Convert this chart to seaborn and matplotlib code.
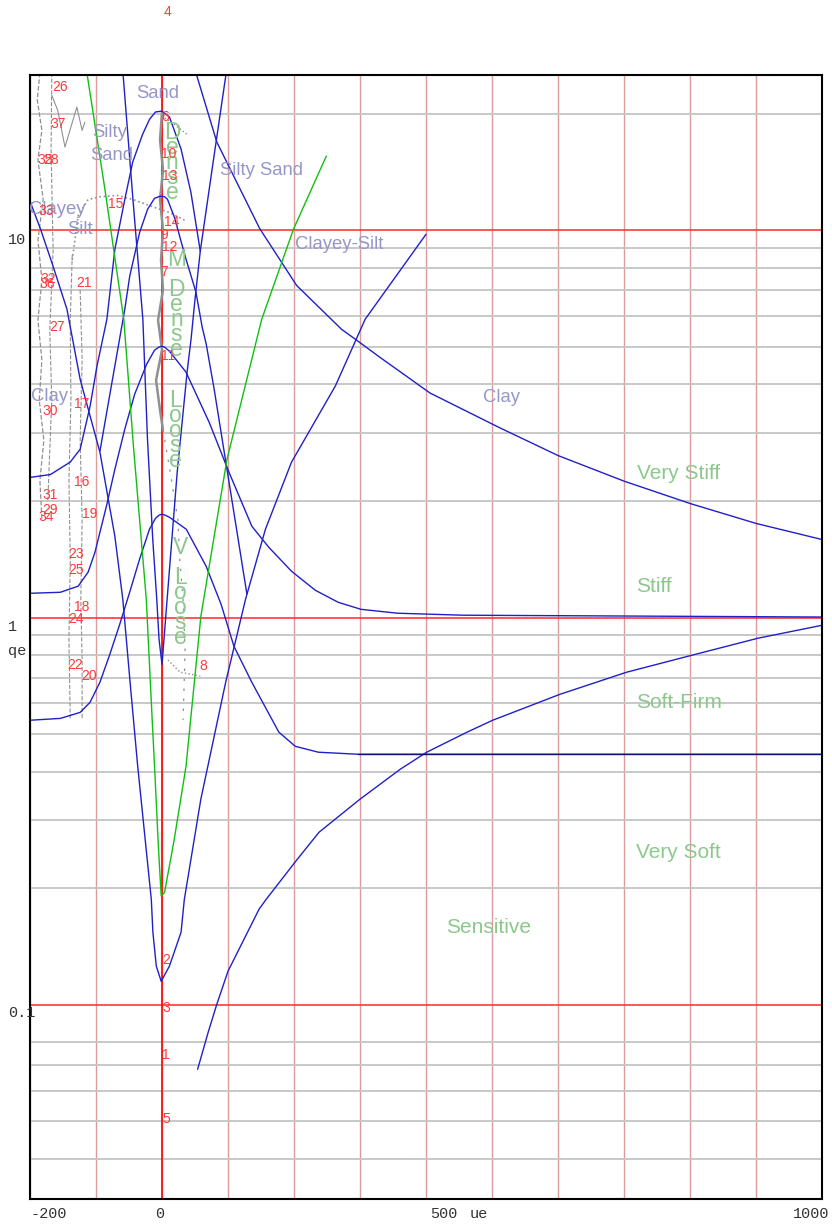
import seaborn as sns
import matplotlib.pyplot as plt
from matplotlib import transforms
from matplotlib.ticker import FixedLocator, NullFormatter

# ---- boundary curves: x = ue, y = qe ----
clay_x = [52, 83, 148, 204, 272, 295, 330, 406, 510, 600, 700, 800, 900, 1000]
clay_q = [25.3, 16.9, 10.1, 7.2, 5.55, 5.2, 4.7, 3.8, 3.1, 2.62, 2.25, 1.97, 1.75, 1.59]

nv_x = [-59, -44, -29, -22, -14, -8, -4.5, 0, 3, 11, 23, 38, 44, 50, 58, 77, 97]
nv_q = [25.3, 12.0, 5.89, 2.89, 1.59, 1.12, 0.879, 0.757, 0.879, 1.31, 2.37, 4.30, 5.23, 6.63, 8.83, 14.8, 25.3]

b1_x = [-200, -169, -139, -124, -109, -98.5, -83.5, -71.4, -56.4, -44.4, -29.3, -18.8, -9.8, 0, 11.3, 28.9, 43.9, 58]
b1_q = [2.30, 2.34, 2.52, 2.72, 3.51, 4.46, 5.89, 8.93, 12.0, 15.0, 17.7, 19.35, 20.2, 20.3, 19.6, 16.2, 12.5, 8.83]

b2_x = [-94, -79, -67, -56.4, -48.9, -33.8, -21.8, -11.3, -4, 0, 4, 8.3, 18.8, 36.4, 51.4, 60.9, 67, 79, 101.5, 116.5, 128.6]
b2_q = [2.69, 3.77, 4.93, 6.25, 7.61, 9.88, 11.33, 12.09, 12.22, 12.24, 12.2, 12.02, 10.80, 8.42, 6.92, 5.62, 5.08, 3.89, 2.24, 1.55, 1.15]

b3_x = [-200, -154, -127, -112, -101.5, -94, -83.5, -71.4, -56.4, -41.4, -23.3, -11.3, -4, 0, 4, 11.3, 36.4,
        71.4, 101.5, 136.1, 161.7, 196.2, 232.3, 266.9, 301.5, 357, 455, 1000]
b3_q = [1.155, 1.162, 1.205, 1.309, 1.475, 1.661, 1.961, 2.415, 3.064, 3.773, 4.508, 4.900, 5.0, 5.018, 4.99, 4.871, 4.30,
        3.194, 2.372, 1.721, 1.519, 1.317, 1.176, 1.095, 1.050, 1.026, 1.014, 1.003]

b4_x = [-200, -154, -124, -109, -94, -79, -64, -49, -34, -19, -9.8, -4, 0, 4, 11.3, 36.8, 66.9, 89.5, 109, 136,
        177, 202, 237, 297, 1000]
b4_q = [0.543, 0.549, 0.569, 0.604, 0.681, 0.804, 0.961, 1.162, 1.414, 1.690, 1.804, 1.84, 1.848, 1.84, 1.815, 1.690,
        1.356, 1.082, 0.843, 0.681, 0.506, 0.465, 0.449, 0.4436, 0.4436]

wv_x = [-200, -184, -165, -144, -124, -94, -71.4, -59.4, -47.4, -36.8, -16.2, -13.8, -8.7, -1.2, 11.3,
        28.9, 33.8, 58.9, 96.5, 126.6, 156.7, 196.2, 262.7, 307.8, 400]
wv_q = [11.88, 10.06, 8.07, 6.25, 4.12, 2.67, 1.62, 1.115, 0.653, 0.413, 0.187, 0.154, 0.126, 0.115, 0.126,
        0.154, 0.187, 0.340, 0.681, 1.115, 1.690, 2.518, 3.963, 5.89, 9.76]

gv_x = [-113.5, -86.5, -57.9, -42.9, -23.8, -14.9, -11.3, -5.3, -1.2, 3.8, 18.3, 36.4, 58.9, 98.5, 151.1, 199.2, 248.9]
gv_q = [25.3, 12.76, 5.89, 2.72, 1.115, 0.546, 0.413, 0.253, 0.191, 0.195, 0.266, 0.413, 1.008, 2.563, 5.89, 10.06, 15.53]

sens_x = [54, 70, 83, 100, 147, 158, 205, 238, 300, 361, 401, 462, 501, 603, 704, 803, 903, 1000]
sens_q = [0.0682, 0.085, 0.1003, 0.1221, 0.1765, 0.1874, 0.2376, 0.2791, 0.3396, 0.4058, 0.449, 0.5057,
          0.543, 0.6336, 0.7225, 0.7993, 0.8843, 0.955]

# ---- measured traces (grey) ----
t1_x = [-185, -189, -182, -188, -180, -188, -182, -188, -182, -186, -179, -185, -182]
t1_q = [25.5, 21.7, 18.1, 15.2, 12.0, 9.44, 7.44, 5.86, 4.62, 3.64, 2.87, 2.26, 1.79]
t2_x = [-167, -168, -165, -170, -167, -173]
t2_q = [25.5, 16.1, 8.89, 5.52, 3.64, 2.01]
t3_x = [-136, -139, -138, -141, -139, -141, -139]
t3_q = [8.63, 5.86, 3.64, 2.26, 1.41, 0.875, 0.544]
t4_x = [-124, -121, -124, -121, -123, -121, -121]
t4_q = [7.01, 4.62, 2.87, 1.79, 1.11, 0.777, 0.550]
t5_x = [-167, -158, -147, -129, -121, -117]
t5_q = [22.3, 20.4, 16.4, 20.8, 18.1, 19.0]
t6_x = [-136, -127, -112, -94, -68, -44, -14, 12, 35]
t6_q = [8.38, 10.9, 12.0, 12.2, 12.3, 12.0, 11.5, 11.1, 10.6]
t7_x = [0, -3, 1.5, -3, 1.5, -1.5, 1.5, -6, 0, -9, -3, 1.5]
t7_q = [20.2, 17.1, 14.3, 12.0, 10.0, 8.38, 7.01, 5.86, 4.91, 4.10, 3.43, 3.05]
t8_x = [1.5, 12, 24, 27, 32, 35, 32]
t8_q = [3.05, 2.40, 1.79, 1.41, 1.11, 0.824, 0.544]
t9_x = [9, 27, 58]
t9_q = [0.777, 0.723, 0.706]
t10_x = [4.5, 19.7, 39.4]
t10_q = [19.5, 18.7, 17.6]

# ---- point numbers ----
pt_ids = ['26', '37', '35', '28', '33', '15', '6', '10', '13', '14', '9', '12', '7', '11', '32', '36', '21',
          '27', '30', '17', '16', '31', '29', '34', '19', '23', '25', '18', '24', '22', '20', '8', '2', '3',
          '1', '5']
pt_x = [-155, -158, -177, -168, -175, -70, 4, 10, 12, 15, 3, 12, 3, 9, -173, -174, -118, -159, -170, -121,
        -121, -170, -170, -176, -109, -130, -130, -121, -130, -132, -110, 62, 6, 6, 6, 6]
pt_q = [23.4, 18.8, 15.2, 15.2, 11.2, 11.67, 19.6, 15.71, 13.79, 10.49, 9.71, 9.04, 7.79, 4.73, 7.47, 7.25,
        7.30, 5.62, 3.41, 3.55, 2.235, 2.07, 1.89, 1.815, 1.848, 1.457, 1.325, 1.063, 0.99, 0.753, 0.705,
        0.749, 0.1304, 0.098, 0.0741, 0.0507]

# ---- zone labels ----
soil_txt = ['Sand', 'Silty', 'Sand', 'Silty Sand', 'Clayey', 'Silt', 'Clayey-Silt', 'Clay', 'Clay']
soil_x = [-6, -80, -76, 150, -158, -124, 268, 515, -171]
soil_q = [22.5, 17.9, 15.6, 14.3, 11.34, 10.07, 9.16, 3.71, 3.73]

cons_txt = ['Very Stiff', 'Stiff', 'Soft-Firm', 'Very Soft', 'Sensitive']
cons_x = [782, 745, 783, 783, 495]
cons_q = [2.35, 1.20, 0.605, 0.248, 0.1588]

dens_txt = ['Dense', 'M Dense', 'Loose', 'V Loose']
dens_x = [15, 22, 20, 28]
dens_q = [17.93, 8.38, 3.64, 1.512]

# horizontal grid levels as drawn in the reference (no line at 0.09)
minor_q = [0.04, 0.05, 0.06, 0.07, 0.08, 0.2, 0.3, 0.4, 0.5, 0.6, 0.7, 0.8, 0.9,
           2, 3, 4, 5, 6, 7, 8, 9, 20]

BLUE = '#2020c8'
GREEN = '#10c010'
LAV = '#9696c8'
LGREEN = '#8cc88c'
RED = '#ff3a3a'
GREY = '#909090'


def main():
    sns.set_style("white")
    plt.rcParams['font.family'] = ['Liberation Sans', 'DejaVu Sans']

    fig = plt.figure(figsize=(8.32, 12.25), dpi=100)
    ax = fig.add_axes([30 / 832, 26.5 / 1225, 792 / 832, 1123.2 / 1225])
    ax.set_yscale('log')
    ax.set_xlim(-200, 1000)
    ax.set_ylim(10 ** -1.5, 10 ** 1.4)

    # grid
    ax.set_xticks(range(-200, 1001, 100))
    ax.set_yticks([0.1, 1, 10])
    ax.yaxis.set_minor_locator(FixedLocator(minor_q))
    ax.yaxis.set_minor_formatter(NullFormatter())
    ax.set_axisbelow(True)
    ax.grid(which='minor', axis='y', color='#c4c4c4', lw=1.3)
    ax.grid(which='major', axis='y', color=RED, lw=1.2)
    ax.grid(which='major', axis='x', color='#dc9c9c', lw=1.0)
    ax.tick_params(which='both', length=0, labelleft=False, labelbottom=False)
    ax.axvline(0, color='#ff0000', lw=1.2, zorder=1.5)
    for s in ax.spines.values():
        s.set_color('black')
        s.set_linewidth(1.5)

    # measured traces
    traces = [(t1_x, t1_q, '--', 0.9), (t2_x, t2_q, '--', 0.8), (t3_x, t3_q, '--', 0.8),
              (t4_x, t4_q, '--', 0.8), (t5_x, t5_q, '-', 0.8), (t6_x, t6_q, ':', 1.2),
              (t7_x, t7_q, '-', 1.8), (t8_x, t8_q, (0, (2, 6)), 0.9), (t9_x, t9_q, ':', 1.0),
              (t10_x, t10_q, ':', 1.0)]
    for tx, tq, ls, lw in traces:
        sns.lineplot(x=tx, y=tq, ax=ax, color=GREY, lw=lw, ls=ls, sort=False, estimator=None)

    # boundary curves
    for cx, cq in [(clay_x, clay_q), (nv_x, nv_q), (b1_x, b1_q), (b2_x, b2_q), (b3_x, b3_q),
                   (b4_x, b4_q), (wv_x, wv_q), (sens_x, sens_q)]:
        sns.lineplot(x=cx, y=cq, ax=ax, color=BLUE, lw=1.0, sort=False, estimator=None)
    sns.lineplot(x=b4_x[-2:], y=b4_q[-2:], ax=ax, color='#10107a', lw=1.0, sort=False, estimator=None)
    sns.lineplot(x=gv_x, y=gv_q, ax=ax, color=GREEN, lw=1.0, sort=False, estimator=None)

    # labels
    for t, x, q in zip(soil_txt, soil_x, soil_q):
        ax.text(x, q, t, color=LAV, fontsize=13.3, ha='center', va='center')
    for t, x, q in zip(cons_txt, cons_x, cons_q):
        ax.text(x, q, t, color=LGREEN, fontsize=15, ha='center', va='center')
    for word, x, q in zip(dens_txt, dens_x, dens_q):
        for i, ch in enumerate(word):
            tr = transforms.offset_copy(ax.transData, fig=fig, x=0, y=-15 * i, units='dots')
            ax.text(x, q, ch, color=LGREEN, fontsize=16.5, ha='center', va='center', transform=tr)
    for t, x, q in zip(pt_ids, pt_x, pt_q):
        ax.text(x, q, t, color=RED, fontsize=10, ha='center', va='center')
    fig.text(167 / 832, 1 - 12 / 1225, '4', color=RED, fontsize=10, ha='center', va='center')

    # axis labels
    mono = dict(family='Liberation Mono', fontsize=11, color='#333333')
    ty = transforms.blended_transform_factory(ax.transAxes, ax.transData)
    for t, q in [('10', 9.44), ('1', 0.945), ('0.1', 0.0953)]:
        ax.text(-0.0278, q, t, transform=ty, ha='left', va='center', **mono)
    ax.text(-0.0164, 0.819, 'qe', transform=ty, ha='center', va='center', **mono)
    tx = transforms.blended_transform_factory(ax.transData, ax.transAxes)
    for t, x, ha in [('-200', -200, 'left'), ('0', -3, 'center'), ('500', 406, 'left'),
                     ('ue', 480, 'center'), ('1000', 1012, 'right')]:
        ax.text(x, -0.0134, t, transform=tx, ha=ha, va='center', clip_on=False, **mono)

    fig.savefig('out.png', dpi=100)


if __name__ == "__main__":
    main()
